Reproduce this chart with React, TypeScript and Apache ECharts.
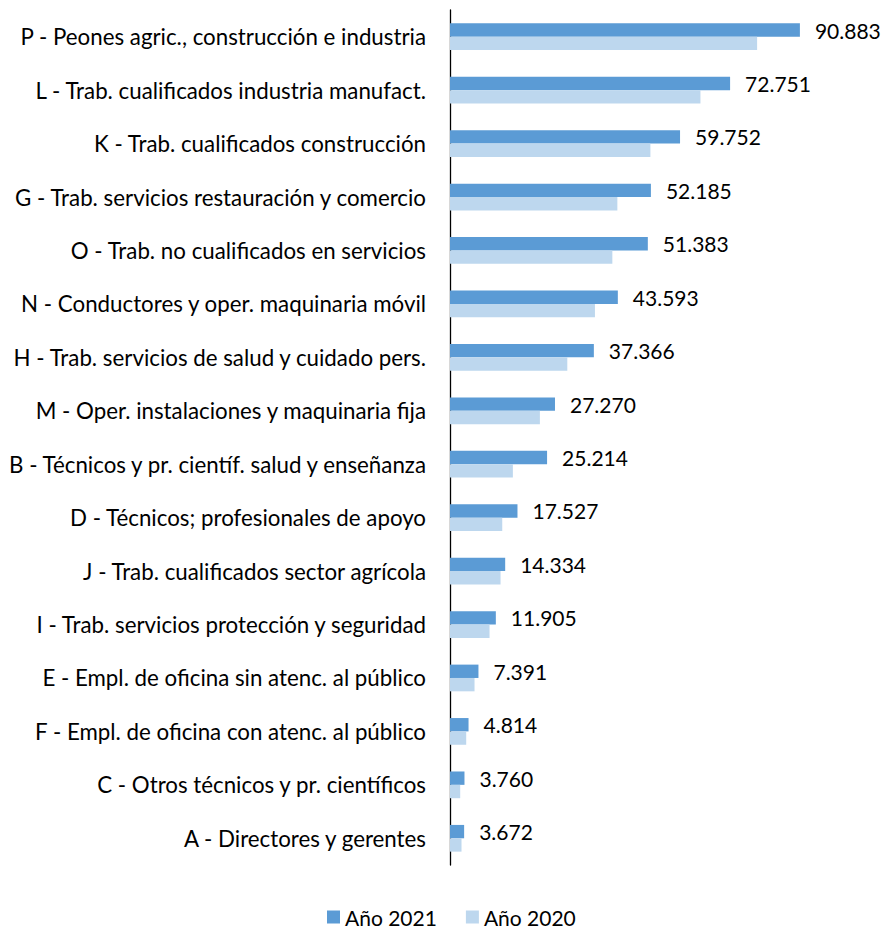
import React, { useEffect, useRef } from "react";
import * as echarts from "echarts";

const categories: string[] = [
  "P - Peones agric., construcción e industria",
  "L - Trab. cualificados industria manufact.",
  "K - Trab. cualificados construcción",
  "G - Trab. servicios restauración y comercio",
  "O - Trab. no cualificados en servicios",
  "N - Conductores y oper. maquinaria móvil",
  "H - Trab. servicios de salud y cuidado pers.",
  "M - Oper. instalaciones y maquinaria fija",
  "B - Técnicos y pr. científ. salud y enseñanza",
  "D - Técnicos; profesionales de apoyo",
  "J - Trab. cualificados sector agrícola",
  "I - Trab. servicios protección y seguridad",
  "E - Empl. de oficina sin atenc. al público",
  "F - Empl. de oficina con atenc. al público",
  "C - Otros técnicos y pr. científicos",
  "A - Directores y gerentes",
];

const values2021: number[] = [
  90883, 72751, 59752, 52185, 51383, 43593, 37366, 27270, 25214, 17527, 14334,
  11905, 7391, 4814, 3760, 3672,
];

const values2020: number[] = [
  79770, 65050, 52050, 43470, 42170, 37650, 30470, 23350, 16330, 13570, 13130,
  10270, 6370, 4210, 2650, 2990,
];

const seriesNames: string[] = ["Año 2021", "Año 2020"];

const FONT = "Lato, 'Open Sans', sans-serif";

function fmt(v: number): string {
  return String(Math.round(v)).replace(/\B(?=(\d{3})+(?!\d))/g, ".");
}

export default function App() {
  const ref = useRef<HTMLDivElement>(null);
  useEffect(() => {
    if (!ref.current) return;
    const chart = echarts.init(ref.current, undefined, { renderer: "svg" });
    chart.setOption({
      animation: false,
      textStyle: { fontFamily: FONT },
      grid: { left: 450, right: 53, top: 10, bottom: 65, containLabel: false },
      legend: {
        data: seriesNames,
        left: 327,
        top: 906,
        padding: 0,
        itemWidth: 13,
        itemHeight: 13,
        itemGap: 29,
        icon: "rect",
        textStyle: {
          fontFamily: FONT,
          fontSize: 21,
          lineHeight: 22,
          color: "#000",
        },
      },
      xAxis: {
        type: "value",
        min: 0,
        max: 100000,
        show: false,
      },
      yAxis: {
        type: "category",
        data: categories,
        inverse: true,
        axisLine: { show: true, lineStyle: { color: "#000", width: 1.3 } },
        axisTick: { show: false },
        axisLabel: {
          margin: 24,
          fontFamily: FONT,
          fontSize: 22.3,
          color: "#000",
        },
        splitLine: { show: false },
      },
      series: [
        {
          name: seriesNames[0],
          type: "bar",
          data: values2021,
          barGap: "0%",
          barCategoryGap: "50%",
          itemStyle: { color: "#5B9BD5" },
          label: {
            show: true,
            position: "right",
            distance: 15,
            fontFamily: FONT,
            fontSize: 21,
            color: "#000",
            formatter: (p: any) => fmt(p.value),
          },
        },
        {
          name: seriesNames[1],
          type: "bar",
          data: values2020,
          barGap: "0%",
          barCategoryGap: "50%",
          itemStyle: { color: "#BDD7EE" },
        },
      ],
    });
    return () => chart.dispose();
  }, []);
  return (
    <div
      ref={ref}
      style={{ position: "absolute", left: 0, top: 0, width: 888, height: 930 }}
    />
  );
}
